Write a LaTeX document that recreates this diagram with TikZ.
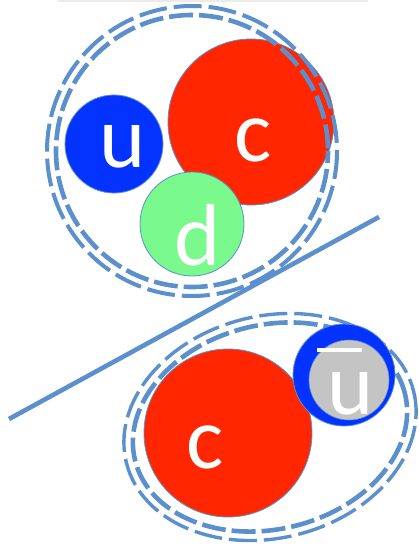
\documentclass[tikz,border=0pt]{standalone}
\usepackage{fontspec}
\setmainfont{Carlito}
\usepackage{tikz}

\definecolor{ringblue}{RGB}{91,144,204}
\definecolor{cred}{RGB}{255,38,0}
\definecolor{ublue}{RGB}{4,51,255}
\definecolor{dgreen}{RGB}{122,250,140}
\definecolor{ubgray}{RGB}{196,196,196}

\tikzset{
  quark/.style={circle, draw=ringblue, line width=0.8pt, inner sep=0pt},
  flavour/.style={text=white, inner sep=0pt, font=\fontsize{88}{88}\selectfont},
  glue/.style={draw=ringblue, line width=4.6pt, dash pattern=on 24pt off 6pt},
  glueout/.style={draw=ringblue, line width=4pt, dash pattern=on 28pt off 7pt},
}

\begin{document}
\begin{tikzpicture}[x=1pt,y=-1pt]
  \useasboundingbox (0,0) rectangle (418,548);
  \draw [black!8, line width=2pt] (58,1) -- (368,1);

  % baryon: u c d
  \node [quark, fill=ublue, minimum size=98] (u1) at (114,144) {};
  \node [quark, fill=cred, minimum size=166] (c1) at (251,122) {};
  \node [quark, fill=dgreen, minimum size=104] (d1) at (192,224) {};
  \node [flavour] (tu1) at (123,147) {u};
  \node [flavour] (tc1) at (253,140) {c};
  \node [flavour] (td1) at (198,235) {d};
  \coordinate (bc) at (192,151);
  \draw [glueout] (bc) circle [radius=145];
  \draw [glue, dash phase=12pt] (bc) circle [radius=136];

  % separating line
  \coordinate (sl) at (9,419);
  \coordinate (sr) at (379,217);
  \draw [ringblue, line width=4.6pt] (sl) -- (sr);

  % meson: c anti-u
  \node [quark, fill=cred, minimum size=168] (c2) at (228,433) {};
  \node [flavour] (tc2) at (205,447) {c};
  \coordinate (mc) at (270,427);
  \draw [glueout, line width=3.4pt, rotate around={14:(mc)}] (mc) ellipse [x radius=148, y radius=111];
  \draw [glue, dash phase=10pt, rotate around={14:(mc)}] (mc) ellipse [x radius=139, y radius=102];
  \node [circle, fill=ublue, draw=ringblue, line width=0.8pt, minimum size=102, inner sep=0pt] (ub) at (344,375) {};
  \node [circle, fill=ubgray, draw=ringblue, line width=0.6pt, minimum size=80, inner sep=0pt] (ug) at (349,380) {};
  \node [flavour] (tu2) at (351,394) {u};
  \draw [white, line width=4pt] (317,350) -- (362,350);
\end{tikzpicture}
\end{document}
